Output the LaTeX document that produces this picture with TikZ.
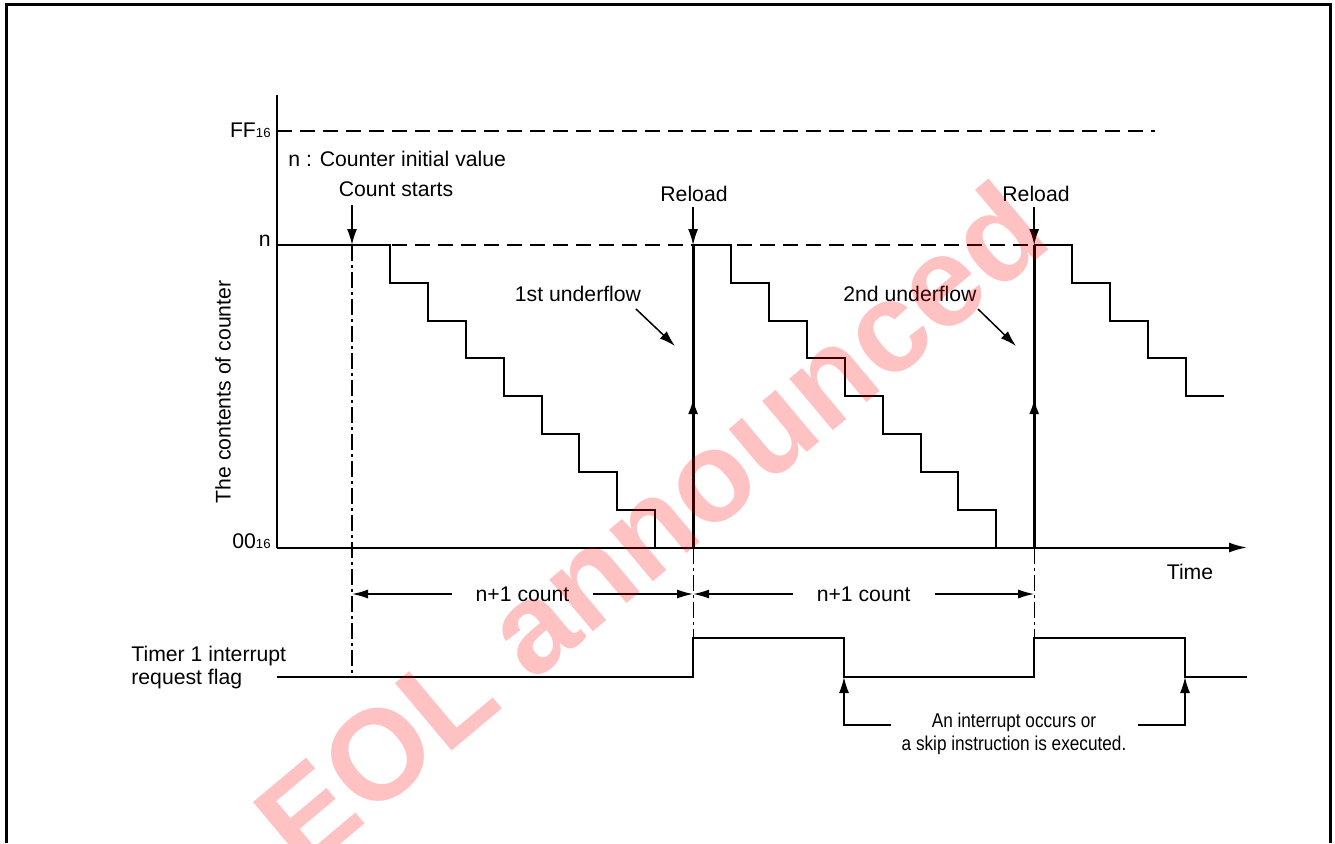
\documentclass[tikz,border=0pt]{standalone}
\usepackage{fontspec}
\setmainfont{Liberation Sans}
\newfontfamily\narrowfont[FakeStretch=0.86]{Liberation Sans}
\usetikzlibrary{arrows.meta, positioning, calc}
\definecolor{tmInk}{HTML}{000000}
\definecolor{tmMark}{HTML}{FF0000}
\newcommand\hexsub[1]{{\fontsize{6.6}{8}\selectfont #1}}
\tikzset{
  lbl/.style={font=\fontsize{10.6}{11.5}\selectfont, inner sep=0pt, text=tmInk},
  note/.style={font=\narrowfont\fontsize{10}{11.5}\selectfont, align=center, inner sep=0pt},
  dimlbl/.style={lbl, fill=white, inner xsep=12pt, inner ysep=1pt},
  sig/.style={draw=tmInk, line width=1pt, line join=miter},
  reload/.style={draw=tmInk, line width=1.5pt},
  guide/.style={draw=tmInk, line width=0.7pt, dash pattern=on 7.5pt off 4pt},
  chain/.style={draw=tmInk, line width=0.6pt, dash pattern=on 8pt off 2pt on 1.5pt off 2pt},
  arr/.style={-{Latex[length=8pt,width=5pt]}, line width=0.75pt},
  dimarr/.style={{Latex[length=8pt,width=4.5pt]}-{Latex[length=8pt,width=4.5pt]}, line width=0.75pt},
  frame/.style={draw=tmInk, line width=1.5pt},
  wmark/.style={font=\fontsize{64}{68}\selectfont\bfseries, text=tmMark, text opacity=0.24, inner sep=0pt}
}

\begin{document}
\begin{tikzpicture}[x=0.5pt, y=-0.5pt]
  \useasboundingbox (0,0) rectangle (1335,843);
  \draw[frame] (6,843) -- (6,4) -- (1330,4) -- (1330,843);
  \def\p{37.9}
  \def\h{37.8125}

  % key points
  \coordinate (org) at (277,547.5);
  \coordinate (ytop) at (277,95);
  \coordinate (xend) at (1247,547.5);
  \coordinate (cs) at (352,245);
  \coordinate (r1) at (693.1,245);
  \coordinate (r2) at (1034.2,245);

  % guide lines
  \draw[guide] (277,131) -- (1155,131);
  \draw[guide] (277,245) -- (r2);

  % axes
  \draw[sig] (ytop) -- (org);
  \draw[sig, -{Latex[length=9pt,width=5pt]}] (org) -- (xend);
  \node[lbl, anchor=base east] (ff) at (271,137) {FF\hexsub{16}};
  \node[lbl, anchor=base east] (nv) at (271,246) {n};
  \node[lbl, anchor=base east] (zz) at (271,548) {00\hexsub{16}};
  \node[lbl, rotate=90] (ylab) at (223,392) {The contents of counter};
  \node[lbl, anchor=base] (tlab) at (1190,579) {Time};
  \node[lbl, anchor=base west] (nnote) at (288,166) {n : Counter initial value};

  % counter staircases
  \foreach \s/\m/\e in {352/8/277, 693.1/8/693.1, 1034.2/4/1034.2}{
    \draw[sig] (\e,245)
      \foreach \k in {1,...,\m}{ -- ({\s+\k*\p},{245+(\k-1)*\h}) -- ({\s+\k*\p},{245+\k*\h}) }
      -- ({\s+(\m+1)*\p},{245+\m*\h});
  }
  \foreach \r in {693.1,1034.2}{
    \draw[reload] (\r,547.5) -- (\r,245);
    \draw[arr, line width=1.5pt] (\r,547.5) -- (\r,398);
  }

  % markers above
  \node[lbl, anchor=base] (cstart) at (396,196) {Count starts};
  \node[lbl, anchor=base] (rl1) at (694,201) {Reload};
  \node[lbl, anchor=base] (rl2) at (1036,201) {Reload};
  \draw[arr] (352,205) -- (cs);
  \draw[arr] (693.1,207) -- (r1);
  \draw[arr] (1034.2,207) -- (r2);
  \node[lbl, anchor=base] (uf1) at (578,301) {1st underflow};
  \node[lbl, anchor=base] (uf2) at (910,301) {2nd underflow};
  \coordinate (u1a) at (636,309); \coordinate (u1b) at (675,346);
  \coordinate (u2a) at (978,309); \coordinate (u2b) at (1016,346);
  \draw[arr] (u1a) -- (u1b);
  \draw[arr] (u2a) -- (u2b);

  % count spans
  \draw[chain] (cs) -- (352,677);
  \draw[chain] (693.1,547.5) -- (693.1,638);
  \draw[chain] (1034.2,547.5) -- (1034.2,638);
  \draw[dimarr] (352,594) -- (693.1,594) node[midway, dimlbl] (c1) {n+1 count};
  \draw[dimarr] (693.1,594) -- (1034.2,594) node[midway, dimlbl] (c2) {n+1 count};

  % interrupt request flag
  \node[lbl, align=left, anchor=west] (flab) at (131,668) {Timer 1 interrupt\\request flag};
  \coordinate (f1) at (844,677);
  \coordinate (f2) at (1185,677);
  \draw[sig] (277,677) -- (693.1,677) -- (693.1,638) -- (844,638) -- (f1)
    -- (1034.2,677) -- (1034.2,638) -- (1185,638) -- (f2) -- (1247,677);
  \node[note] (inote) at (1014,734) {An interrupt occurs or\\a skip instruction is executed.};
  \draw[arr] ($(inote.west)+(-10,-9)$) -| (f1);
  \draw[arr] ($(inote.east)+(11,-9)$) -| (f2);

  % watermark
  \node[wmark, rotate=40] (wm) at (650,525) {EOL announced};
\end{tikzpicture}
\end{document}
